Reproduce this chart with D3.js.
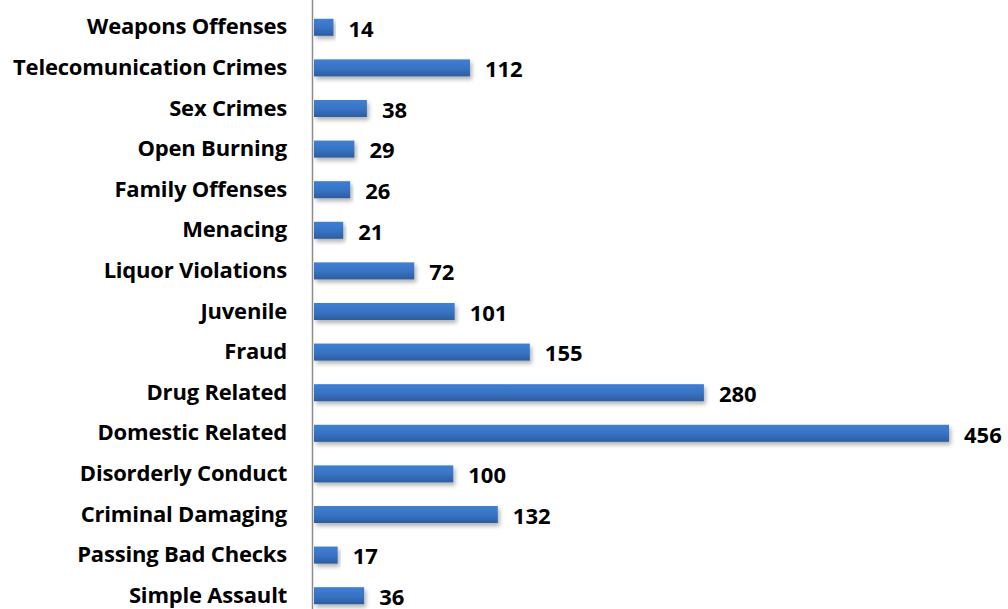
<!DOCTYPE html>
<html>
<head>
<meta charset="utf-8">
<script src="https://cdn.jsdelivr.net/npm/d3@7"></script>
<style>
  body { margin: 0; background: #fff; }
</style>
</head>
<body>
<div id="chart"></div>
<script>
const categories = ['Weapons Offenses', 'Telecomunication Crimes', 'Sex Crimes', 'Open Burning',
  'Family Offenses', 'Menacing', 'Liquor Violations', 'Juvenile', 'Fraud', 'Drug Related',
  'Domestic Related', 'Disorderly Conduct', 'Criminal Damaging', 'Passing Bad Checks', 'Simple Assault'];
const counts = [14, 112, 38, 29, 26, 21, 72, 101, 155, 280, 456, 100, 132, 17, 36];

const width = 1008, height = 609;
const margin = { left: 314, right: 59, top: 7, bottom: -7 };
const font = "'Open Sans', sans-serif";

const svg = d3.select('#chart')
  .append('svg')
  .attr('width', width)
  .attr('height', height)
  .attr('font-family', font)
  .attr('font-weight', 'bold');

const defs = svg.append('defs');
const grad = defs.append('linearGradient')
  .attr('id', 'barGrad')
  .attr('x1', 0).attr('y1', 0).attr('x2', 0).attr('y2', 1);
grad.append('stop').attr('offset', '0%').attr('stop-color', '#3f80d2');
grad.append('stop').attr('offset', '55%').attr('stop-color', '#3772c2');
grad.append('stop').attr('offset', '100%').attr('stop-color', '#2c5d9f');

const shadow = defs.append('filter')
  .attr('id', 'shadow')
  .attr('x', '-5%').attr('y', '-30%').attr('width', '115%').attr('height', '190%');
shadow.append('feDropShadow')
  .attr('dx', 2).attr('dy', 3).attr('stdDeviation', 2)
  .attr('flood-color', '#000').attr('flood-opacity', 0.3);

const x = d3.scaleLinear()
  .domain([0, 456])
  .range([margin.left, width - margin.right]);

const y = d3.scaleBand()
  .domain(categories)
  .range([margin.top, height - margin.bottom])
  .paddingInner(0.58)
  .paddingOuter(0.29);

// category axis
const yAxis = svg.append('g')
  .attr('transform', `translate(${margin.left - 1},0)`)
  .call(d3.axisLeft(y).tickSize(0).tickPadding(26));
yAxis.select('.domain').remove();
yAxis.selectAll('text')
  .attr('font-size', 22)
  .attr('font-family', font)
  .attr('font-weight', 'bold')
  .attr('letter-spacing', -0.2)
  .attr('fill', '#000');

svg.append('line')
  .attr('x1', margin.left - 1.5).attr('x2', margin.left - 1.5)
  .attr('y1', 0).attr('y2', height)
  .attr('stroke', '#8c8c8c')
  .attr('stroke-width', 1.5);

svg.append('g')
  .selectAll('rect')
  .data(categories)
  .join('rect')
  .attr('x', x(0))
  .attr('y', d => y(d))
  .attr('width', (d, i) => x(counts[i]) - x(0))
  .attr('height', y.bandwidth())
  .attr('fill', 'url(#barGrad)')
  .attr('filter', 'url(#shadow)');

svg.append('g')
  .selectAll('text')
  .data(categories)
  .join('text')
  .attr('x', (d, i) => x(counts[i]) + 15)
  .attr('y', d => y(d) + y.bandwidth() / 2 + 1.5)
  .attr('dy', '0.35em')
  .attr('font-size', 22)
  .attr('fill', '#000')
  .text((d, i) => counts[i]);
</script>
</body>
</html>
